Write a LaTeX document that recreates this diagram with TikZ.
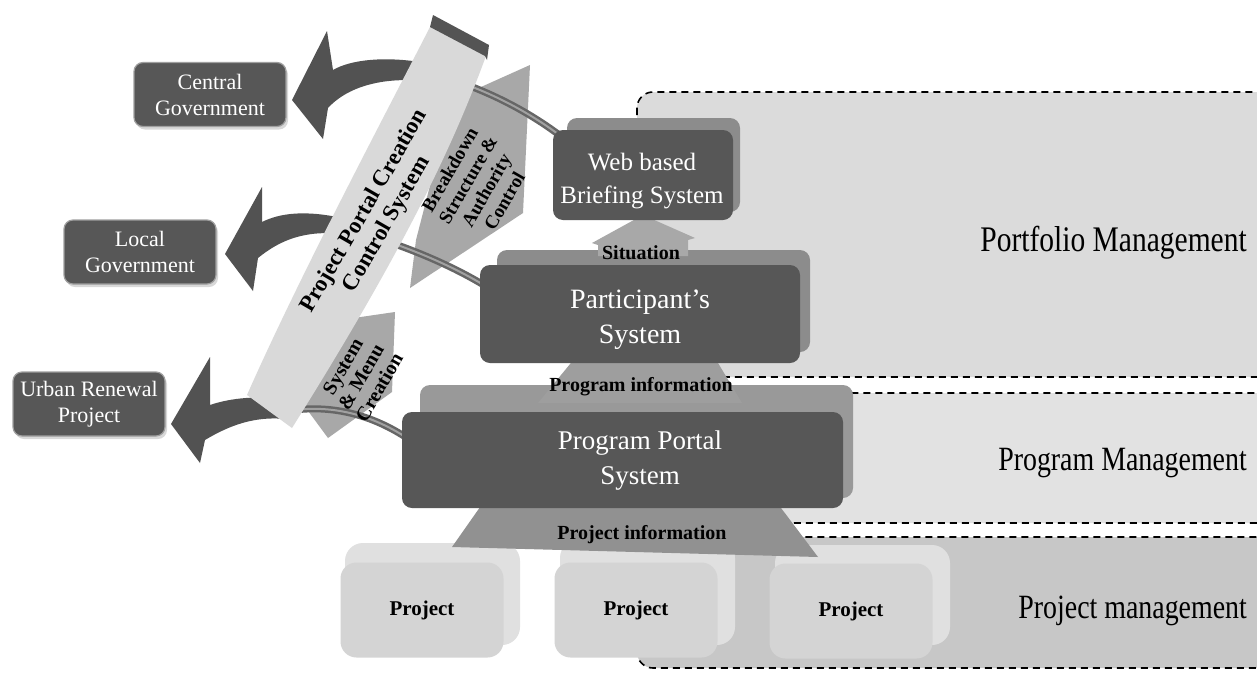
\documentclass[tikz,border=0pt]{standalone}
\usepackage{fontspec}
\setmainfont{Liberation Serif}
\newfontfamily\condfont[FakeStretch=0.82]{Liberation Serif}
\usetikzlibrary{shadows}
\definecolor{boxdark}{gray}{0.34}
\definecolor{boxmid}{gray}{0.55}
\definecolor{boxbevel}{gray}{0.6}
\definecolor{arrowdark}{gray}{0.32}
\definecolor{bandfill}{gray}{0.85}
\definecolor{bandcap}{gray}{0.33}
\definecolor{chevfill}{gray}{0.66}
\definecolor{trapA}{gray}{0.62}
\definecolor{trapB}{gray}{0.57}
\definecolor{projfront}{gray}{0.83}
\definecolor{projback}{gray}{0.88}
\definecolor{portbg}{gray}{0.86}
\definecolor{progbg}{gray}{0.885}
\definecolor{projbg}{gray}{0.78}
\definecolor{tubedark}{gray}{0.4}
\definecolor{tubelight}{gray}{0.63}
\begin{document}
\begin{tikzpicture}[x=1pt,y=-1pt,
  govbox/.style={fill=boxdark, draw=gray!75, line width=1.2pt, rounded corners=9pt,
    minimum width=152pt, minimum height=64pt, text=white, align=center, inner sep=0pt,
    font=\fontsize{22}{26}\selectfont,
    drop shadow={opacity=0.3,shadow xshift=2pt,shadow yshift=-3pt}},
  frontbox/.style={fill=boxdark, rounded corners=10pt, inner sep=0pt},
  backface/.style={fill=boxmid, rounded corners=10pt},
  wlabel/.style={text=white, align=center, inner sep=0pt},
  blabel/.style={text=black, align=center, inner sep=0pt, font=\bfseries\fontsize{20}{21}\selectfont},
  projfrontbox/.style={fill=projfront, rounded corners=16pt, minimum width=163pt,
    minimum height=95pt, inner sep=0pt, font=\bfseries\fontsize{21}{24}\selectfont},
  projbackbox/.style={fill=projback, rounded corners=18pt},
  region/.style={draw=black, dash pattern=on 7pt off 5pt, line width=1.6pt, rounded corners=16pt},
  tube/.style={draw=tubedark, line width=7pt, postaction={draw=tubelight, line width=2pt}},
  curvarrow/.style={fill=arrowdark},
  chevron/.style={fill=chevfill},
  reglabel/.style={anchor=base east, inner sep=0pt}
]
\useasboundingbox (0,0) rectangle (1257,672);
\fill[white] (0,0) rectangle (1257,672);

% ---- management regions
\path[region, fill=portbg] (637,92) rectangle (1290,377);
\path[region, fill=progbg] (637,393) rectangle (1290,523);
\path[region, fill=projbg] (637,537) rectangle (1290,668);

\node[reglabel, font=\condfont\fontsize{36}{38}\selectfont] (lport) at (1247,251) {Portfolio Management};
\node[reglabel, font=\condfont\fontsize{34}{36}\selectfont] (lprog) at (1247,470) {Program Management};
\node[reglabel, font=\condfont\fontsize{34}{36}\selectfont] (lproj) at (1247,618) {Project management};

% ---- stakeholder boxes
\node[govbox] (central) at (210,94.5) {Central\\Government};
\node[govbox] (local) at (140,252) {Local\\Government};
\node[govbox] (urban) at (89,404) {Urban Renewal\\Project};

% ---- curved arrows towards the stakeholders
\path[curvarrow] (292,100) -- (327,31) -- (333,70)
  .. controls (350,60) and (385,55) .. (432,64) -- (432,82)
  .. controls (390,76) and (350,84) .. (328,108) -- (323,139) -- cycle;
\path[curvarrow] (225,254) -- (262,187) -- (262,222)
  .. controls (280,213) and (305,210) .. (342,218) -- (342,234)
  .. controls (305,230) and (280,240) .. (258,258) -- (253,291) -- cycle;
\path[curvarrow] (171,424) -- (210,357) -- (210,405)
  .. controls (230,398) and (260,395) .. (286,400) -- (286,419)
  .. controls (255,416) and (230,425) .. (205,440) -- (200,463) -- cycle;

% ---- chevron arrows
\path[chevron] (530,65) -- (523,213) -- (410,288) -- (416,240) -- (452,100) -- cycle;
\path[chevron] (395,312) -- (392,392) -- (328,438) -- (300,400) -- (340,320) -- cycle;

% ---- tubes
\coordinate (ctail) at (432,74);
\coordinate (ltail) at (342,228);
\coordinate (utail) at (288,411);
\coordinate (webin) at (562,137);
\coordinate (partin) at (487,287);
\coordinate (portin) at (410,440);
\draw[tube] (ctail) .. controls (472,84) and (520,105) .. (webin);
\draw[tube] (ltail) .. controls (382,238) and (440,258) .. (partin);
\draw[tube] (utail) .. controls (330,404) and (372,414) .. (portin);

% ---- curved band
\path[fill=bandfill] (430,27) -- (486,56)
  .. controls (455,140) and (410,240) .. (292,428)
  -- (247,395)
  .. controls (300,275) and (385,115) .. (430,27) -- cycle;
\path[fill=bandcap] (433,15) -- (489,45) -- (487,60) -- (485,56) -- (430,27) -- cycle;

\node[blabel, rotate=60, font=\bfseries\fontsize{23}{26}\selectfont] (bandtxt) at (376,218)
  {Project Portal Creation\\Control System};
\node[blabel, rotate=60, font=\bfseries\fontsize{19}{21}\selectfont] (bdtxt) at (477,185)
  {Breakdown\\Structure \&\\Authority\\Control};
\node[blabel, rotate=60, font=\bfseries\fontsize{20}{21}\selectfont] (smtxt) at (361,377)
  {System\\\& Menu\\Creation};

% ---- project boxes
\path[projbackbox] (345,543) rectangle (520,645);
\path[projbackbox] (560,540) rectangle (735,645);
\path[projbackbox] (775,545) rectangle (950,645);
\node[projfrontbox] (p1) at (422,610) {Project};
\node[projfrontbox] (p2) at (636,610) {Project};
\node[projfrontbox] (p3) at (851,611) {Project};

% ---- project information
\path[fill=trapB] (485,500) -- (775,500) -- (818,557) -- (452,547) -- cycle;

% ---- program portal
\path[fill=boxbevel, rounded corners=10pt] (420,385) rectangle (853,498);
\path[fill=trapA] (575,358) -- (715,358) -- (742,403) -- (538,403) -- cycle;
\node[frontbox, minimum width=441pt, minimum height=96pt] (portal) at (622.5,460) {};
\node[wlabel, font=\fontsize{27}{35}\selectfont] (portaltxt) at (640,461) {Program Portal\\System};

% ---- participant's system
\path[backface] (497,250) rectangle (810,352);
\path[fill=trapA!90!white] (592,243) -- (643,215) -- (695,238) -- (688,240) -- (688,256) -- (598,256) -- (598,245) -- cycle;
\node[frontbox, minimum width=320pt, minimum height=98pt] (part) at (640,314) {};
\node[wlabel, font=\fontsize{28}{35}\selectfont] (parttxt) at (640,320) {Participant’s\\System};

% ---- web based briefing system
\path[backface] (567,118) rectangle (740,212);
\node[frontbox, minimum width=180pt, minimum height=90pt] (web) at (643,175) {};
\node[wlabel, font=\fontsize{25}{33}\selectfont] (webtxt) at (642,181) {Web based\\Briefing System};

% ---- flow labels
\node[blabel] (sit) at (641,253) {Situation};
\node[blabel] (proginfo) at (641,387) {Program information};
\node[blabel] (projinfo) at (642,535) {Project information};
\end{tikzpicture}
\end{document}
